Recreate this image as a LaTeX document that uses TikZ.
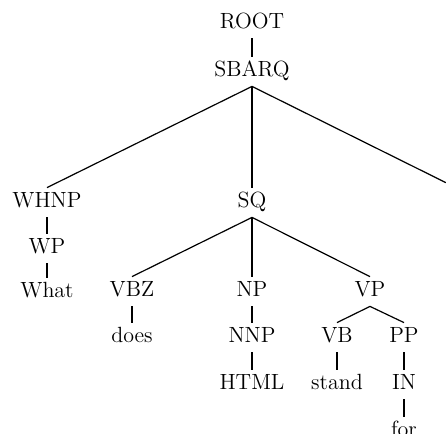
\documentclass[tikz,border=0pt]{standalone}
\begin{document}
\begin{tikzpicture}[x=0.5pt,y=-0.5pt,
  lbl/.style={anchor=base,inner sep=1pt,text height=8.5pt,text depth=4pt,font=\fontsize{11}{13}\selectfont},
  edge/.style={draw=black,line width=0.6pt}]
\useasboundingbox (0,0) rectangle (446,434);
\node[lbl] (root) at (252,28) {ROOT};
\node[lbl] (sbarq) at (252,76) {SBARQ};
\node[lbl] (whnp) at (47,207) {WHNP};
\node[lbl] (wp) at (47,253) {WP};
\node[lbl] (what) at (47,297) {What};
\node[lbl] (sq) at (252,207) {SQ};
\node[lbl] (vbz) at (132,296) {VBZ};
\node[lbl] (does) at (132,342) {does};
\node[lbl] (np) at (252,296) {NP};
\node[lbl] (nnp) at (252,342) {NNP};
\node[lbl] (html) at (252,389) {HTML};
\node[lbl] (vp) at (370,296) {VP};
\node[lbl] (vb) at (337,342) {VB};
\node[lbl] (stand) at (337,389) {stand};
\node[lbl] (pp) at (404,342) {PP};
\node[lbl] (in) at (404,389) {IN};
\node[lbl] (for) at (404,436) {for};
\coordinate (off) at (446,182.7);
\draw[edge] (root.south) -- (sbarq.north);
\draw[edge] (sbarq.south) -- (whnp.north);
\draw[edge] (sbarq.south) -- (sq.north);
\draw[edge] (sbarq.south) -- (off);
\draw[edge] (whnp.south) -- (wp.north);
\draw[edge] (wp.south) -- (what.north);
\draw[edge] (sq.south) -- (vbz.north);
\draw[edge] (sq.south) -- (np.north);
\draw[edge] (sq.south) -- (vp.north);
\draw[edge] (vbz.south) -- (does.north);
\draw[edge] (np.south) -- (nnp.north);
\draw[edge] (nnp.south) -- (html.north);
\draw[edge] (vp.south) -- (vb.north);
\draw[edge] (vp.south) -- (pp.north);
\draw[edge] (vb.south) -- (stand.north);
\draw[edge] (pp.south) -- (in.north);
\draw[edge] (in.south) -- (for.north);
\end{tikzpicture}
\end{document}
